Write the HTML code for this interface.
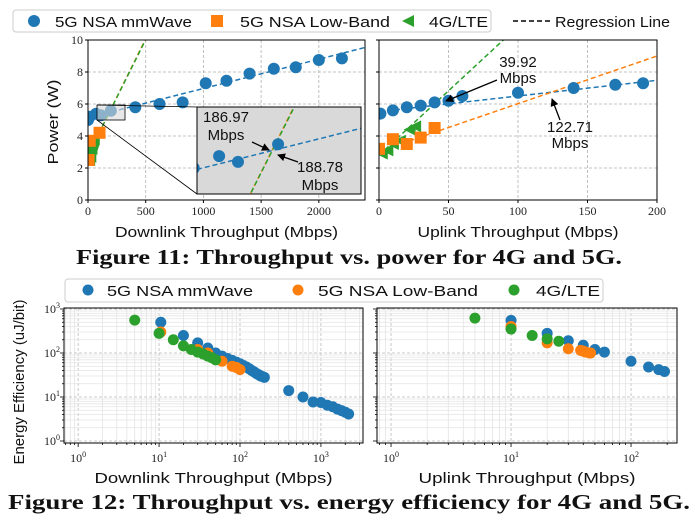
<!DOCTYPE html>
<html><head><meta charset="utf-8">
<style>
body{margin:0;background:#fff;}
svg{display:block;font-family:"Liberation Sans",sans-serif;}
.tick{font-family:"Liberation Serif",serif;font-size:12px;fill:#222;}
.lab{font-size:15px;fill:#111;}
.cap{font-family:"Liberation Serif",serif;font-weight:bold;font-size:21px;fill:#111;}
</style></head>
<body>
<svg id="fig" width="695" height="520" viewBox="0 0 695 520"></svg>
<script>
// ---------- data ----------
const dlMmX=[0,15,70,111,198,410,620,820,1020,1200,1400,1610,1800,2000,2200];
const dlMmY=[5.0,5.2,5.39,5.3,5.58,5.8,6.0,6.1,7.3,7.45,7.9,8.2,8.3,8.75,8.85];
const dlLbX=[5,15,100];
const dlLbY=[2.5,3.7,4.2];
const dlLteX=[5,10,15,20,25,30,35,40,45,50,10,20,30];
const dlLteY=[2.6,2.8,3.0,3.1,3.3,3.4,3.5,3.6,3.7,3.8,2.5,2.7,3.2];
const dlFitMm=[5.14,0.00183];
const dlFitLb=[2.78,0.0146];
const dlFitLte=[2.80,0.01445];
const ulMmX=[1,10,20,30,40,50,60,100,140,170,190];
const ulMmY=[5.4,5.6,5.8,5.9,6.1,6.2,6.5,6.7,7.0,7.2,7.3];
const ulLbX=[0,10,20,30,40];
const ulLbY=[3.2,3.8,3.5,3.9,4.5];
const ulLteX=[2,6,10,15,22,26];
const ulLteY=[2.9,3.1,3.5,3.7,4.4,4.6];
const ulFitMm=[5.52,0.0098];
const ulFitLb=[3.04,0.0298];
const ulFitLte=[2.8,0.0805];
const eeDlMmX=[10.5,20,30,40,50,60,70,80,90,100,110,120,130,140,150,160,170,180,190,200,400,600,800,1000,1200,1400,1600,1800,2000,2200];
const eeDlMmY=[500,250,170,130,100,85,75,68,62,57,52,48,44,40,37,34,32,30,29,28,14,10,7.7,7.5,6.5,6,5.3,4.9,4.5,4.1];
const eeDlLbX=[10.5,30,40,60,80,90,100];
const eeDlLbY=[300,120,100,65,50,47,42];
const eeDlLteX=[5,10,15,20,25,30,35,40,45,50];
const eeDlLteY=[560,280,200,145,120,105,95,85,78,70];
const eeUlMmX=[10,20,30,40,50,60,100,140,170,190];
const eeUlMmY=[550,280,190,150,120,105,65,48,42,38];
const eeUlLbX=[10,20,30,38,40,42,45,46];
const eeUlLbY=[400,170,125,115,110,105,100,100];
const eeUlLteX=[5,10,15,20,25];
const eeUlLteY=[620,350,250,210,185];
const BLUE='#1f77b4',ORANGE='#ff7f0e',GREEN='#2ca02c';

const svg=document.getElementById('fig');
const NS='http://www.w3.org/2000/svg';
function mk(tag,attrs,parent){const e=document.createElementNS(NS,tag);for(const k in attrs)e.setAttribute(k,attrs[k]);(parent||svg).appendChild(e);return e;}
function txt(x,y,s,cls,anchor,parent,len){const a={x:x,y:y,class:cls,'text-anchor':anchor||'middle'};if(len){a.textLength=len;a.lengthAdjust='spacingAndGlyphs';}const t=mk('text',a,parent);t.textContent=s;return t;}

function lin(d0,d1,p0,p1){return v=>p0+(v-d0)*(p1-p0)/(d1-d0);}
function lg(d0,d1,p0,p1){return v=>p0+(Math.log10(v)-d0)*(p1-p0)/(d1-d0);}

function marker(type,x,y,c,s,parent,name){
  let e;
  if(type==='c') e=mk('circle',{cx:x,cy:y,r:s,fill:c},parent);
  else if(type==='s') e=mk('rect',{x:x-s,y:y-s,width:2*s,height:2*s,fill:c},parent);
  else e=mk('polygon',{points:`${x-s},${y} ${x+s},${y-s} ${x+s},${y+s}`,fill:c},parent);
  
  
  return e;
}
function clip(id,x0,y0,x1,y1){const cp=mk('clipPath',{id:id});mk('rect',{x:x0,y:y0,width:x1-x0,height:y1-y0},cp);}

// ---------- power plots ----------
function powerPlot(id,x0,x1,xmax,xticks,showY,mm,lb,lte,fits,xlabel,lablen){
  const X=lin(0,xmax,x0,x1),Y=lin(0,10,200,40);
  const g=mk('g',{});
  
  
  clip(id+'-clip',x0,40,x1,200);
  for(const t of xticks){mk('line',{x1:X(t),x2:X(t),y1:40,y2:200,stroke:'#b0b0b0','stroke-dasharray':'3,2','stroke-width':0.8},g);
    mk('line',{x1:X(t),x2:X(t),y1:200,y2:203,stroke:'#000'},g);
    txt(X(t),215,String(t),'tick','middle',g);}
  for(let t=0;t<=10;t+=2){mk('line',{x1:x0,x2:x1,y1:Y(t),y2:Y(t),stroke:'#b0b0b0','stroke-dasharray':'3,2','stroke-width':0.8},g);
    mk('line',{x1:x0-3,x2:x0,y1:Y(t),y2:Y(t),stroke:'#000'},g);
    if(showY) txt(x0-5,Y(t)+4,String(t),'tick','end',g);}
  const cg=mk('g',{'clip-path':`url(#${id}-clip)`},g);
  const cols=[BLUE,ORANGE,GREEN];
  fits.forEach((f,i)=>{const l=mk('line',{x1:X(0),y1:Y(f[0]),x2:X(xmax),y2:Y(f[0]+f[1]*xmax),stroke:cols[i],'stroke-width':1.5,'stroke-dasharray':'5,3'},cg);
    });
  lte[0].forEach((v,i)=>marker('t',X(v),Y(lte[1][i]),GREEN,6,cg,'lte-point'));
  lb[0].forEach((v,i)=>marker('s',X(v),Y(lb[1][i]),ORANGE,6,cg,'lowband-point'));
  mm[0].forEach((v,i)=>marker('c',X(v),Y(mm[1][i]),BLUE,6,cg,'mmwave-point'));
  mk('rect',{x:x0,y:40,width:x1-x0,height:160,fill:'none',stroke:'#000','stroke-width':1},g);
  txt((x0+x1)/2,237,xlabel,'lab','middle',g,lablen);
  return {X,Y,g};
}
powerPlot('dl-power-plot',88,365,2400,[0,500,1000,1500,2000],true,[dlMmX,dlMmY],[dlLbX,dlLbY],[dlLteX,dlLteY],[dlFitMm,dlFitLb,dlFitLte],'Downlink Throughput (Mbps)',223);
powerPlot('ul-power-plot',379,657,200,[0,50,100,150,200],false,[ulMmX,ulMmY],[ulLbX,ulLbY],[ulLteX,ulLteY],[ulFitMm,ulFitLb,ulFitLte],'Uplink Throughput (Mbps)',201);
const yl=txt(0,0,'Power (W)','lab','middle',null,85);yl.setAttribute('transform','translate(58,122) rotate(-90)');


// zoom rect + connectors
mk('rect',{x:97,y:105,width:28,height:15,fill:'#d9d9d9','fill-opacity':0.6,stroke:'#000','stroke-width':0.8});
mk('line',{x1:97,y1:120,x2:197,y2:194,stroke:'#000','stroke-width':0.8});
mk('line',{x1:97,y1:105,x2:197,y2:107,stroke:'#000','stroke-width':0.8});
// inset
(function(){
  const ix0=197,ix1=361,iy0=107,iy1=194;
  const X=lin(22,378,ix0,ix1),Y=lin(6.17,4.79,iy0,iy1);
  const g=mk('g',{});
  mk('rect',{x:ix0,y:iy0,width:ix1-ix0,height:iy1-iy0,fill:'#d9d9d9'},g);
  clip('inset-clip',ix0,iy0,ix1,iy1);
  const cg=mk('g',{'clip-path':'url(#inset-clip)'},g);
  [[dlFitMm,BLUE],[dlFitLb,ORANGE],[dlFitLte,GREEN]].forEach(([f,c])=>{mk('line',{x1:X(22),y1:Y(f[0]+f[1]*22),x2:X(378),y2:Y(f[0]+f[1]*378),stroke:c,'stroke-width':1.5,'stroke-dasharray':'5,3'},cg);});
  dlMmX.forEach((v,i)=>marker('c',X(v),Y(dlMmY[i]),BLUE,6,cg,'inset-mmwave-point'));
  mk('rect',{x:ix0,y:iy0,width:ix1-ix0,height:iy1-iy0,fill:'none',stroke:'#000','stroke-width':1},g);
})();
const defs=mk('defs',{});
const mkr=mk('marker',{id:'ah',markerWidth:8,markerHeight:8,refX:7,refY:4,orient:'auto',markerUnits:'userSpaceOnUse'},defs);
mk('path',{d:'M0,0 L8,4 L0,8 z',fill:'#000'},mkr);
function arrow(x1,y1,x2,y2){const a=mk('line',{x1,y1,x2,y2,stroke:'#000','stroke-width':1.3,'marker-end':'url(#ah)'});}
txt(226,122,'186.97','lab');txt(226,140,'Mbps','lab');
arrow(252,142,269,150);
txt(320,172,'188.78','lab');txt(320,190,'Mbps','lab');
arrow(298,162,278,155);
txt(518,67,'39.92','lab');txt(518,83,'Mbps','lab');
arrow(497,80,446,101);
txt(570,132,'122.71','lab');txt(570,148,'Mbps','lab');
arrow(560,120,552,99);

// legend top
(function(){
  const g=mk('g',{});
  mk('rect',{x:13,y:10,width:478,height:22,rx:3,fill:'#fff',stroke:'#ccc'},g);
  marker('c',34,21,BLUE,6,g,'legend-mmwave-marker');txt(55,27,'5G NSA mmWave','lab','start',g,137);
  marker('s',217,21,ORANGE,6,g,'legend-lowband-marker');txt(240,27,'5G NSA Low-Band','lab','start',g,150);
  marker('t',408,21,GREEN,6,g,'legend-lte-marker');txt(429,27,'4G/LTE','lab','start',g,59);
  mk('line',{x1:513,x2:550,y1:21,y2:21,stroke:'#000','stroke-width':1.5,'stroke-dasharray':'5,3'},g);
  txt(555,27,'Regression Line','lab','start',g,115);
})();
const c1=txt(349,264,'Figure 11: Throughput vs. power for 4G and 5G.','cap','middle',null,546);


// ---------- energy efficiency plots ----------
function eePlot(id,x0,x1,lx0,lx1,xdec,showY,mm,lb,lte,xlabel,lablen){
  const X=lg(lx0,lx1,x0,x1),Y=lg(0,3,441,309);
  const g=mk('g',{});
  clip(id+'-clip',x0,308,x1,443);
  for(let d=-1;d<=xdec;d++)for(let m=1;m<10;m++){const v=m*Math.pow(10,d);const lv=Math.log10(v);if(lv<lx0||lv>lx1)continue;
    mk('line',{x1:X(v),x2:X(v),y1:308,y2:443,stroke:m===1?'#bbb':'#e4e4e4','stroke-dasharray':m===1?'3,2':'none','stroke-width':0.8},g);
    mk('line',{x1:X(v),x2:X(v),y1:443,y2:m===1?447:445,stroke:'#000','stroke-width':0.8},g);
    if(m===1){const t=txt(X(v),462,'10','tick','middle',g);const s=mk('tspan',{dy:-5,'font-size':'8px'},t);s.textContent=String(d);}}
  for(let d=0;d<=3;d++)for(let m=1;m<10;m++){const v=m*Math.pow(10,d);if(v>1000)continue;
    mk('line',{x1:x0,x2:x1,y1:Y(v),y2:Y(v),stroke:m===1?'#bbb':'#e4e4e4','stroke-dasharray':m===1?'3,2':'none','stroke-width':0.8},g);
    mk('line',{x1:x0-(m===1?4:2),x2:x0,y1:Y(v),y2:Y(v),stroke:'#000','stroke-width':0.8},g);
    if(m===1&&showY){const t=txt(x0-4,Y(v)+4,'10','tick','end',g);const s=mk('tspan',{dy:-5,'font-size':'8px'},t);s.textContent=String(d);}}
  const cg=mk('g',{'clip-path':`url(#${id}-clip)`},g);
  mm[0].forEach((v,i)=>marker('c',X(v),Y(mm[1][i]),BLUE,5.5,cg,'ee-mmwave-point'));
  lb[0].forEach((v,i)=>marker('c',X(v),Y(lb[1][i]),ORANGE,5.5,cg,'ee-lowband-point'));
  lte[0].forEach((v,i)=>marker('c',X(v),Y(lte[1][i]),GREEN,5.5,cg,'ee-lte-point'));
  mk('rect',{x:x0,y:308,width:x1-x0,height:135,fill:'none',stroke:'#000','stroke-width':1},g);
  txt((x0+x1)/2,483,xlabel,'lab','middle',g,lablen);
}
eePlot('dl-ee-plot',64,363,-0.175,3.52,3,true,[eeDlMmX,eeDlMmY],[eeDlLbX,eeDlLbY],[eeDlLteX,eeDlLteY],'Downlink Throughput (Mbps)',238);
eePlot('ul-ee-plot',377,677,-0.117,2.383,2,false,[eeUlMmX,eeUlMmY],[eeUlLbX,eeUlLbY],[eeUlLteX,eeUlLteY],'Uplink Throughput (Mbps)',217);
const yl2=txt(0,0,'Energy Efficiency (uJ/bit)','lab','middle',null,165);yl2.setAttribute('transform','translate(24,382) rotate(-90)');

(function(){
  const g=mk('g',{});
  mk('rect',{x:65,y:279,width:538,height:23,rx:3,fill:'#fff',stroke:'#ccc'},g);
  marker('c',88,290,BLUE,5.5,g,'legend-mmwave-marker');txt(107,296,'5G NSA mmWave','lab','start',g,146);
  marker('c',298,290,ORANGE,5.5,g,'legend-lowband-marker');txt(318,296,'5G NSA Low-Band','lab','start',g,160);
  marker('c',514,290,GREEN,5.5,g,'legend-lte-marker');txt(536,296,'4G/LTE','lab','start',g,64);
})();
const c2=txt(349,509,'Figure 12: Throughput vs. energy efficiency for 4G and 5G.','cap','middle',null,682);

</script>
</body></html>
